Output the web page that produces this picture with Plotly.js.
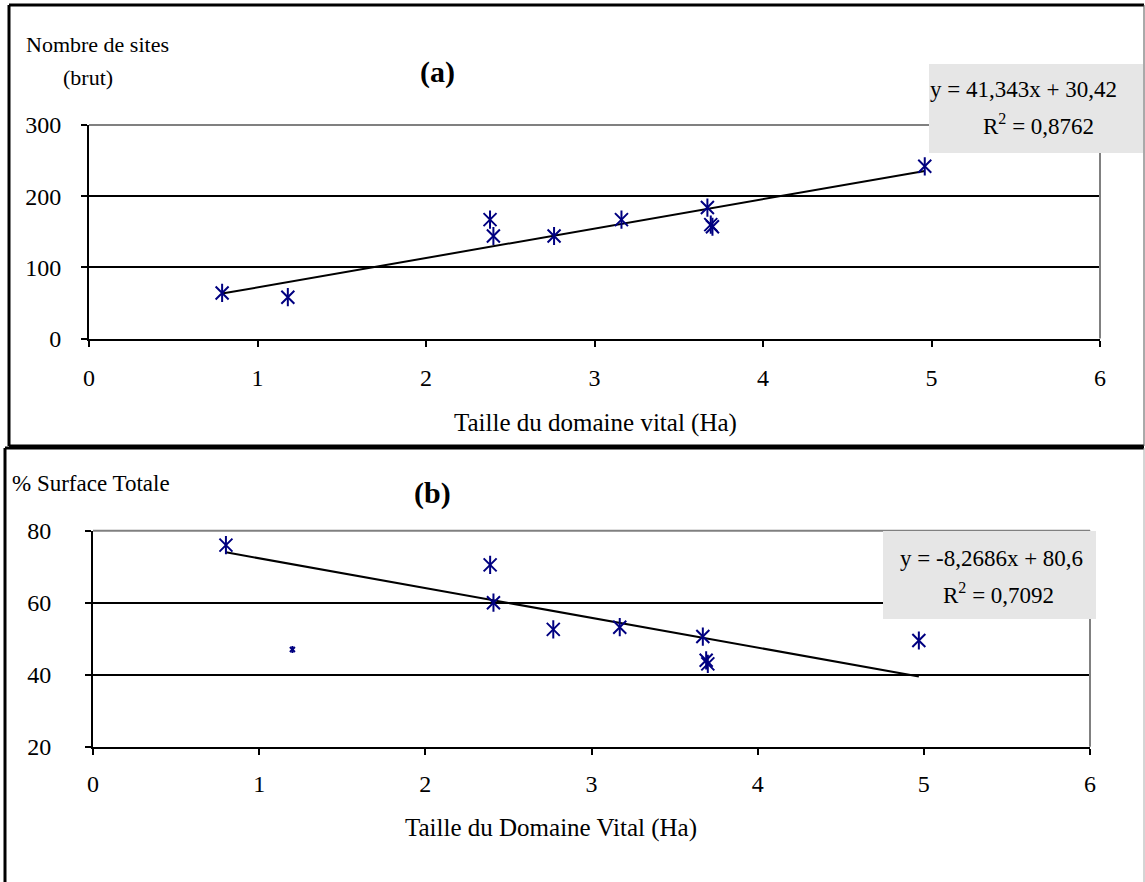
<!DOCTYPE html>
<html>
<head>
<meta charset="utf-8">
<script src="https://cdn.plot.ly/plotly-3.0.1.min.js"></script>
<style>html,body{margin:0;padding:0;background:#fff;}#chart{width:1145px;height:882px;}</style>
</head>
<body>
<div id="chart"></div>
<script>
// ---- data ----
const xA = [0.79, 1.18, 2.38, 2.40, 2.76, 3.16, 3.67, 3.69, 3.70, 4.96];
const yA = [64, 58, 167, 144, 144, 167, 184, 160, 157, 242];
const xB = [0.80, 1.20, 2.39, 2.41, 2.77, 3.17, 3.67, 3.69, 3.70, 4.97];
const yB = [76, 47, 70.5, 60, 52.6, 53.2, 50.6, 44, 43, 49.5];
const slopeA = 41.343, interceptA = 30.42, r2A = "0,8762";
const slopeB = -8.2686, interceptB = 80.6, r2B = "0,7092";
const eqA = "y = 41,343x + 30,42";
const eqB = "y = -8,2686x + 80,6";
const xTicks = [0, 1, 2, 3, 4, 5, 6];
const yTicksA = [0, 100, 200, 300];
const yTicksB = [20, 40, 60, 80];

const W = 1145, H = 882;
const px = v => v / W;
const py = v => 1 - v / H;
const FONT = "Liberation Serif, Times New Roman, serif";
const NAVY = "#000080";

function trend(xs, m, b) {
  const lo = Math.min(...xs), hi = Math.max(...xs);
  return {x: [lo, hi], y: [m * lo + b, m * hi + b]};
}
const tA = trend(xA, slopeA, interceptA);
const tB = trend(xB, slopeB, interceptB);
const smallIdx = 1; // the one small marker in panel (b)

function markers(xs, ys, xa, ya, size) {
  return ['x-thin-open', 'line-ns-open'].map(sym => ({
    x: xs, y: ys, xaxis: xa, yaxis: ya, mode: 'markers', type: 'scatter',
    marker: {symbol: sym, size: size, opacity: 1, color: NAVY, line: {color: NAVY, width: 2}},
    showlegend: false, hoverinfo: 'x+y'
  }));
}
const bigB = {x: xB.filter((v, i) => i !== smallIdx), y: yB.filter((v, i) => i !== smallIdx)};
const smallB = {x: xB.filter((v, i) => i === smallIdx), y: yB.filter((v, i) => i === smallIdx)};

const traces = [
  {x: tA.x, y: tA.y, xaxis: 'x', yaxis: 'y', mode: 'lines', line: {color: '#000', width: 2}, showlegend: false},
  ...markers(xA, yA, 'x', 'y', 13),
  {x: tB.x, y: tB.y, xaxis: 'x2', yaxis: 'y2', mode: 'lines', line: {color: '#000', width: 2}, showlegend: false},
  ...markers(bigB.x, bigB.y, 'x2', 'y2', 13),
  ...markers(smallB.x, smallB.y, 'x2', 'y2', 5)
];

const axBase = {
  showline: true, linecolor: '#000', linewidth: 2, ticks: 'outside', ticklen: 6,
  tickwidth: 2, tickcolor: '#000', zeroline: false,
  tickfont: {family: FONT, size: 24, color: '#000'}
};

const layout = {
  width: W, height: H,
  margin: {l: 0, r: 0, t: 0, b: 0},
  paper_bgcolor: '#fff', plot_bgcolor: '#fff',
  font: {family: FONT, color: '#000'},
  xaxis: Object.assign({}, axBase, {domain: [px(89), px(1100)], range: [0, 6], tickvals: xTicks, showgrid: false, anchor: 'y', ticklabelstandoff: 11}),
  yaxis: Object.assign({}, axBase, {domain: [py(338.5), py(125)], range: [0, 300], tickvals: yTicksA, showgrid: true, gridcolor: '#000', gridwidth: 2, anchor: 'x', ticklabelstandoff: 15}),
  xaxis2: Object.assign({}, axBase, {domain: [px(93), px(1090)], range: [0, 6], tickvals: xTicks, showgrid: false, anchor: 'y2', ticklabelstandoff: 8}),
  yaxis2: Object.assign({}, axBase, {domain: [py(746.7), py(530.7)], range: [20, 80], tickvals: yTicksB, showgrid: true, gridcolor: '#000', gridwidth: 2, anchor: 'x2', ticklabelstandoff: 29}),
  shapes: [
    // plot-area top/right borders (grey)
    {type: 'line', xref: 'paper', yref: 'paper', x0: px(89), x1: px(1100), y0: py(125), y1: py(125), line: {color: '#808080', width: 2}},
    {type: 'line', xref: 'paper', yref: 'paper', x0: px(1100), x1: px(1100), y0: py(125), y1: py(338.5), line: {color: '#808080', width: 2}},
    {type: 'line', xref: 'paper', yref: 'paper', x0: px(93), x1: px(1090), y0: py(530.7), y1: py(530.7), line: {color: '#808080', width: 2}},
    {type: 'line', xref: 'paper', yref: 'paper', x0: px(1090), x1: px(1090), y0: py(530.7), y1: py(746.7), line: {color: '#808080', width: 2}},
    // equation boxes
    {type: 'rect', xref: 'paper', yref: 'paper', x0: px(929), x1: px(1143), y0: py(153), y1: py(64), fillcolor: '#e6e6e6', line: {width: 0}},
    {type: 'rect', xref: 'paper', yref: 'paper', x0: px(883), x1: px(1096), y0: py(619), y1: py(531), fillcolor: '#e6e6e6', line: {width: 0}},
    // frame (a)
    {type: 'line', xref: 'paper', yref: 'paper', x0: px(9), x1: px(1144), y0: py(5), y1: py(5), line: {color: '#000', width: 3}},
    {type: 'line', xref: 'paper', yref: 'paper', x0: px(9), x1: px(9), y0: py(5), y1: py(446), line: {color: '#000', width: 3}},
    {type: 'line', xref: 'paper', yref: 'paper', x0: px(9), x1: px(1144), y0: py(446), y1: py(446), line: {color: '#000', width: 3}},
    {type: 'line', xref: 'paper', yref: 'paper', x0: px(1144), x1: px(1144), y0: py(5), y1: py(446), line: {color: '#555', width: 1}},
    // frame (b)
    {type: 'line', xref: 'paper', yref: 'paper', x0: px(5), x1: px(1144), y0: py(448), y1: py(448), line: {color: '#000', width: 3}},
    {type: 'line', xref: 'paper', yref: 'paper', x0: px(5), x1: px(5), y0: py(448), y1: py(882), line: {color: '#000', width: 3}},
    {type: 'line', xref: 'paper', yref: 'paper', x0: px(1144), x1: px(1144), y0: py(448), y1: py(882), line: {color: '#aaa', width: 1}}
  ],
  annotations: [
    {text: 'Nombre de sites', xref: 'paper', yref: 'paper', x: px(24), y: py(45), xanchor: 'left', yanchor: 'middle', showarrow: false, font: {family: FONT, size: 22}},
    {text: '(brut)', xref: 'paper', yref: 'paper', x: px(88), y: py(78), xanchor: 'center', yanchor: 'middle', showarrow: false, font: {family: FONT, size: 22}},
    {text: '<b>(a)</b>', xref: 'paper', yref: 'paper', x: px(437), y: py(72), xanchor: 'center', yanchor: 'middle', showarrow: false, font: {family: FONT, size: 30}},
    {text: 'Taille du domaine vital (Ha)', xref: 'paper', yref: 'paper', x: px(596), y: py(423), xanchor: 'center', yanchor: 'middle', showarrow: false, font: {family: FONT, size: 25}},
    {text: eqA, xref: 'paper', yref: 'paper', x: px(1023), y: py(89), xanchor: 'center', yanchor: 'middle', showarrow: false, font: {family: FONT, size: 23}},
    {text: 'R<sup>2</sup> = ' + r2A, xref: 'paper', yref: 'paper', x: px(1038), y: py(124), xanchor: 'center', yanchor: 'middle', showarrow: false, font: {family: FONT, size: 23}},
    {text: '% Surface Totale', xref: 'paper', yref: 'paper', x: px(10), y: py(483), xanchor: 'left', yanchor: 'middle', showarrow: false, font: {family: FONT, size: 23}},
    {text: '<b>(b)</b>', xref: 'paper', yref: 'paper', x: px(432), y: py(493), xanchor: 'center', yanchor: 'middle', showarrow: false, font: {family: FONT, size: 30}},
    {text: 'Taille du Domaine Vital (Ha)', xref: 'paper', yref: 'paper', x: px(551), y: py(828), xanchor: 'center', yanchor: 'middle', showarrow: false, font: {family: FONT, size: 25}},
    {text: eqB, xref: 'paper', yref: 'paper', x: px(991), y: py(558), xanchor: 'center', yanchor: 'middle', showarrow: false, font: {family: FONT, size: 23}},
    {text: 'R<sup>2</sup> = ' + r2B, xref: 'paper', yref: 'paper', x: px(998), y: py(593), xanchor: 'center', yanchor: 'middle', showarrow: false, font: {family: FONT, size: 23}}
  ]
};

Plotly.newPlot('chart', traces, layout, {staticPlot: true, displayModeBar: false});
</script>
</body>
</html>
